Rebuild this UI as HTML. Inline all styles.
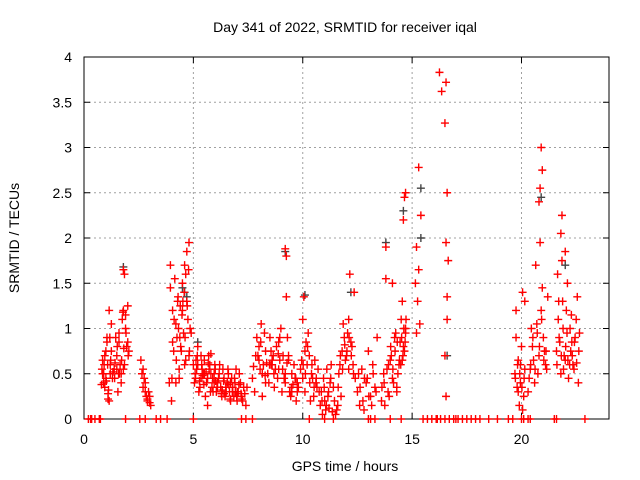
<!DOCTYPE html>
<html><head><meta charset="utf-8"><style>
html,body{margin:0;padding:0;background:#fff}
svg{display:block;font-family:"Liberation Sans",sans-serif}
</style></head><body>
<svg id="chart" width="640" height="480" viewBox="0 0 640 480">
<rect width="640" height="480" fill="#fff"/>
<g id="grid"></g>
<g id="axes"></g>
<g id="marks"></g>
<text x="345" y="32" text-anchor="middle" font-size="14">Day 341 of 2022, SRMTID for receiver iqal</text>
<text x="345" y="471" text-anchor="middle" font-size="14">GPS time / hours</text>
<text transform="translate(19,238) rotate(-90)" text-anchor="middle" font-size="14">SRMTID / TECUs</text>
</svg>
<script>
const xTicks=[0,5,10,15,20];
const yTicks=[0,0.5,1,1.5,2,2.5,3,3.5,4];
const yTickLabels=["0","0.5","1","1.5","2","2.5","3","3.5","4"];
const times=[
0.8,0.85,0.9,0.95,1.0,1.05,1.1,1.15,1.2,1.25,0.9,1.0,1.1,1.2,1.3,0.95,1.05,1.15,1.25,0.85,
1.4,1.45,1.5,1.55,1.6,1.65,1.7,1.75,1.8,1.85,1.9,1.95,2.0,2.05,1.5,1.6,1.7,1.8,1.9,2.0,1.8,1.85,
2.6,2.65,2.7,2.75,2.8,2.85,2.9,2.95,3.0,3.05,2.7,2.8,2.9,3.0,
3.9,3.95,4.0,4.05,4.1,4.15,4.2,4.25,4.3,4.35,4.4,4.45,4.5,4.55,4.6,4.65,4.7,4.75,4.8,4.85,3.95,4.05,4.2,4.35,4.5,4.65,4.8,4.9,4.6,4.7,
5.0,5.1,5.2,5.3,5.4,5.5,5.6,5.7,5.8,5.9,6.0,6.1,6.2,6.3,6.4,6.5,6.6,6.7,6.8,6.9,7.0,7.1,7.2,7.3,7.4,5.05,5.15,5.25,5.35,5.45,
5.55,5.65,5.75,5.85,5.95,6.05,6.15,6.25,6.35,6.45,6.55,6.65,6.75,6.85,6.95,7.05,7.15,7.25,7.35,7.45,5.2,5.5,5.8,6.1,6.4,6.7,7.0,5.35,5.65,5.95,
7.7,7.8,7.9,8.0,8.1,8.2,8.3,8.4,8.5,8.6,8.7,8.8,8.9,9.0,9.1,9.2,9.3,9.4,9.5,9.6,9.7,9.8,7.85,8.05,8.25,8.45,8.65,8.85,9.05,9.25,9.45,9.65,8.0,8.3,8.6,8.9,9.2,9.5,9.2,9.25,8.15,8.55,8.95,9.35,9.75,
9.9,9.95,10.0,10.05,10.1,10.15,10.2,10.3,10.4,10.5,10.6,10.7,10.75,10.25,10.35,10.45,10.55,10.65,10.0,10.1,
10.8,10.85,10.9,10.95,11.0,11.05,11.1,11.15,11.2,11.25,11.3,11.35,11.4,11.45,
11.5,11.6,11.7,11.8,11.9,12.0,12.1,12.2,12.3,12.4,11.55,11.65,11.75,11.85,11.95,12.05,12.15,12.25,12.35,12.1,
12.5,12.6,12.7,12.8,12.9,13.0,13.1,13.2,13.3,13.4,12.55,12.75,12.95,13.15,13.35,
13.6,13.7,13.8,13.9,14.0,14.1,14.2,14.3,14.4,14.5,14.6,14.7,13.75,13.85,13.95,14.05,14.15,14.25,14.35,14.45,14.55,14.65,14.6,14.65,14.7,14.1,14.3,14.55,14.7,13.8,
15.15,15.2,15.25,15.3,15.35,15.4,15.3,15.2,
16.25,16.35,16.55,16.5,16.6,16.55,16.65,16.6,16.5,16.55,16.6,
19.7,19.75,19.8,19.85,19.9,19.95,20.0,20.05,20.1,20.15,19.75,19.85,19.95,20.05,20.15,
20.3,20.4,20.5,20.6,20.7,20.8,20.9,21.0,21.1,21.2,20.35,20.45,20.55,20.65,20.75,20.85,20.95,21.05,21.15,20.85,20.9,20.95,20.8,
21.6,21.7,21.8,21.9,22.0,22.1,22.2,22.3,22.4,22.5,22.6,22.65,21.65,21.75,21.85,21.95,22.05,22.15,22.25,22.35,22.45,22.55,21.8,21.85,22.0];
const values=[
0.38,0.65,0.5,0.7,0.45,0.9,0.22,1.2,0.5,1.05,0.4,0.75,0.28,0.6,0.45,0.35,0.85,0.2,0.75,0.5,
0.45,0.9,0.55,0.3,0.85,0.6,0.5,1.1,1.2,0.6,1.15,0.8,0.85,0.75,0.7,0.95,0.4,0.55,1.0,1.25,1.65,1.6,
0.65,0.5,0.35,0.45,0.3,0.25,0.2,0.3,0.18,0.15,0.55,0.4,0.22,0.25,
0.4,1.7,0.2,1.2,0.75,1.55,0.4,0.9,1.35,0.55,1.25,0.75,1.5,0.95,1.7,0.65,1.85,1.1,0.7,1.0,1.45,0.85,1.05,0.45,1.2,1.6,1.95,0.95,0.6,1.3,
0.6,0.45,0.8,0.35,0.55,0.65,0.4,0.7,0.5,0.3,0.55,0.4,0.6,0.25,0.45,0.3,0.5,0.2,0.35,0.4,0.3,0.5,0.25,0.35,0.15,0.4,0.55,0.3,0.7,0.5,
0.25,0.45,0.6,0.35,0.5,0.3,0.45,0.35,0.55,0.25,0.4,0.3,0.45,0.25,0.55,0.3,0.4,0.2,0.28,0.35,0.6,0.5,0.72,0.35,0.28,0.4,0.2,0.45,0.15,0.4,
0.45,0.3,0.9,0.65,1.05,0.6,0.75,0.5,0.9,0.65,0.35,0.8,0.55,1.0,0.7,0.4,0.9,0.3,0.5,0.6,0.2,0.35,0.7,0.55,0.95,0.4,0.7,0.45,0.3,1.35,0.25,0.45,0.8,0.4,0.6,0.85,0.5,0.3,1.88,1.8,0.25,0.6,0.9,0.65,0.4,
0.55,0.65,0.45,1.35,0.3,0.85,0.6,0.7,0.5,0.25,0.4,0.55,0.3,0.95,0.2,0.45,0.65,0.35,1.1,0.75,
0.15,0.3,0.05,0.45,0.2,0.1,0.55,0.25,0.12,0.4,0.6,0.08,0.35,0.2,
0.05,0.15,0.6,0.75,0.9,0.7,1.1,0.85,0.6,0.45,0.1,0.5,0.25,1.05,0.65,0.95,1.6,0.8,1.4,0.55,
0.3,0.15,0.55,0.1,0.4,0.75,0.25,0.6,0.35,0.9,0.5,0.2,0.45,0.15,0.3,
0.2,0.5,1.9,0.3,0.65,0.45,0.9,0.35,0.6,1.1,0.8,1.0,0.15,0.55,0.25,0.7,0.4,0.95,0.5,0.85,1.3,0.75,2.2,2.45,2.5,1.5,0.3,0.65,0.95,1.55,
1.5,1.9,1.3,2.78,1.05,2.25,1.65,0.95,
3.83,3.62,3.72,3.27,2.5,1.95,1.75,1.35,0.7,0.25,1.1,
0.5,1.2,0.35,0.65,0.15,0.4,0.8,1.4,0.25,0.55,0.9,0.3,0.6,0.1,1.3,
0.3,0.55,0.8,0.4,1.05,0.7,1.2,0.9,0.6,1.35,0.45,1.0,0.65,1.7,0.5,1.95,1.45,0.75,0.55,2.55,3.0,2.75,2.4,
0.75,1.3,0.5,1.0,0.65,1.5,0.6,0.85,0.55,1.1,0.4,0.95,1.6,0.85,2.25,0.7,1.2,0.45,0.75,0.6,0.9,1.35,2.05,1.75,1.85];
const extraTimes=[
0.82,0.92,1.02,1.12,1.22,1.32,1.42,1.52,1.62,1.72,1.82,1.92,2.02,1.08,1.18,1.38,1.58,1.78,
4.02,4.12,4.22,4.32,4.42,4.52,4.62,4.72,4.82,4.28,4.38,4.48,4.58,4.78,
5.08,5.18,5.28,5.38,5.48,5.58,5.68,5.78,5.88,5.98,6.08,6.18,6.28,6.38,6.48,6.58,6.68,6.78,6.88,6.98,7.08,7.18,5.12,5.42,5.72,6.02,6.32,6.62,6.92,7.22,
7.75,7.95,8.15,8.35,8.55,8.75,8.95,9.15,9.35,9.55,9.75,8.08,8.28,8.48,8.68,8.88,9.08,9.28,9.48,9.68,
10.02,10.12,10.22,10.32,10.42,10.52,10.62,10.88,10.98,11.08,11.18,11.28,11.62,11.72,11.82,11.92,12.02,12.12,12.22,12.32,
12.62,12.82,13.02,13.22,13.62,13.72,13.92,14.02,14.12,14.22,14.32,14.42,14.52,14.62,14.68,14.72,14.58,14.48,
19.72,19.82,19.92,20.02,20.12,20.42,20.52,20.62,20.72,20.82,20.92,21.02,21.12,
21.62,21.72,21.82,21.92,22.02,22.12,22.22,22.32,22.42,22.52,22.62,21.68,21.88,22.08,22.28];
const extraValues=[
0.55,0.6,0.42,0.32,0.65,0.52,0.62,0.8,0.5,0.65,0.78,0.95,0.7,0.6,0.9,0.55,0.5,1.18,
0.45,1.1,0.65,1.0,0.8,1.3,0.9,1.25,0.75,1.3,0.9,1.15,1.4,1.65,
0.5,0.7,0.42,0.6,0.38,0.52,0.62,0.3,0.45,0.6,0.35,0.5,0.28,0.42,0.35,0.55,0.22,0.3,0.45,0.25,0.38,0.28,0.65,0.48,0.55,0.42,0.32,0.38,0.3,0.22,
0.58,0.7,0.5,0.62,0.75,0.55,0.65,0.45,0.7,0.38,0.3,0.85,0.48,0.6,0.5,0.72,0.55,0.62,0.35,0.45,
0.6,0.5,0.8,0.4,0.6,0.35,0.45,0.2,0.35,0.15,0.3,0.45,0.35,0.7,0.55,0.82,0.75,0.9,0.7,0.5,
0.35,0.45,0.25,0.5,0.35,0.4,0.6,0.8,0.55,0.75,0.85,0.65,0.9,1.0,0.85,1.1,0.7,0.6,
0.45,0.6,0.5,0.35,0.45,0.6,0.9,0.55,0.95,0.8,1.1,0.65,0.75,
0.6,0.9,0.7,0.55,0.8,0.65,1.0,0.7,0.85,0.62,0.75,1.1,1.3,0.95,1.15];
const zeroTimes=[0.2,0.3,0.35,0.5,0.7,0.75,1.9,2.55,2.8,3.3,3.5,3.8,5.0,7.2,7.4,7.7,10.3,11.0,11.4,13.0,13.1,13.3,14.0,14.5,15.5,15.7,15.9,16.1,16.15,16.3,16.5,16.7,16.9,17.0,17.1,17.3,17.5,17.7,17.9,18.1,18.5,18.9,19.4,19.6,20.0,20.1,20.3,20.4,21.5,21.6,22.9];
const greyTimes=[1.8,4.5,4.6,4.7,5.2,9.2,10.1,12.2,13.8,14.6,15.4,15.4,16.6,20.9,22.0];
const greyValues=[1.68,1.45,1.4,1.35,0.85,1.85,1.37,1.4,1.95,2.3,2.55,2.0,0.7,2.45,1.7];

const X0=84,X1=609,Y0=419,Y1=57;
const xs=t=>X0+(t/24)*(X1-X0);
const ys=v=>Y0-(v/4)*(Y0-Y1);
const NS="http://www.w3.org/2000/svg";
function mk(tag,attrs,parent){const e=document.createElementNS(NS,tag);for(const k in attrs)e.setAttribute(k,attrs[k]);parent.appendChild(e);return e;}
const grid=document.getElementById('grid'),axes=document.getElementById('axes'),marks=document.getElementById('marks');
xTicks.forEach(t=>{
  const x=xs(t);
  if(t>0){const g=mk('line',{x1:x,y1:Y0,x2:x,y2:Y1,stroke:'#a0a0a0','stroke-dasharray':'2,3'},grid);
  
  }
  const a=mk('line',{x1:x,y1:Y0,x2:x,y2:Y0-6,stroke:'#000'},axes);
  
  
  const b=mk('line',{x1:x,y1:Y1,x2:x,y2:Y1+6,stroke:'#000'},axes);
  
  
  const l=mk('text',{x:x,y:Y0+25,'text-anchor':'middle','font-size':'14'},axes);l.textContent=String(t);
  
  
});
yTicks.forEach((v,i)=>{
  const y=ys(v);
  if(v>0&&v<4){const g=mk('line',{x1:X0,y1:y,x2:X1,y2:y,stroke:'#a0a0a0','stroke-dasharray':'2,3'},grid);
  
  }
  const a=mk('line',{x1:X0,y1:y,x2:X0+6,y2:y,stroke:'#000'},axes);
  
  
  const b=mk('line',{x1:X1,y1:y,x2:X1-6,y2:y,stroke:'#000'},axes);
  
  
  const l=mk('text',{x:X0-12,y:y+5,'text-anchor':'end','font-size':'14'},axes);l.textContent=yTickLabels[i];
  
  
});
const border=mk('rect',{x:X0,y:Y1,width:X1-X0,height:Y0-Y1,fill:'none',stroke:'#000'},axes);


function plus(t,v,color,name){
  const x=xs(t),y=ys(v);
  const p=mk('path',{d:`M${x-4},${y}H${x+4}M${x},${y-4}V${y+4}`,stroke:color,'stroke-width':'1.4',fill:'none'},marks);
  
  
}
greyTimes.forEach((t,i)=>plus(t,greyValues[i],'#444','grey-point'));
times.forEach((t,i)=>plus(t,values[i],'#ff0000','srmtid-point'));
extraTimes.forEach((t,i)=>plus(t,extraValues[i],'#ff0000','srmtid-point'));
zeroTimes.forEach(t=>plus(t,0,'#ff0000','zero-point'));
</script>
</body></html>
